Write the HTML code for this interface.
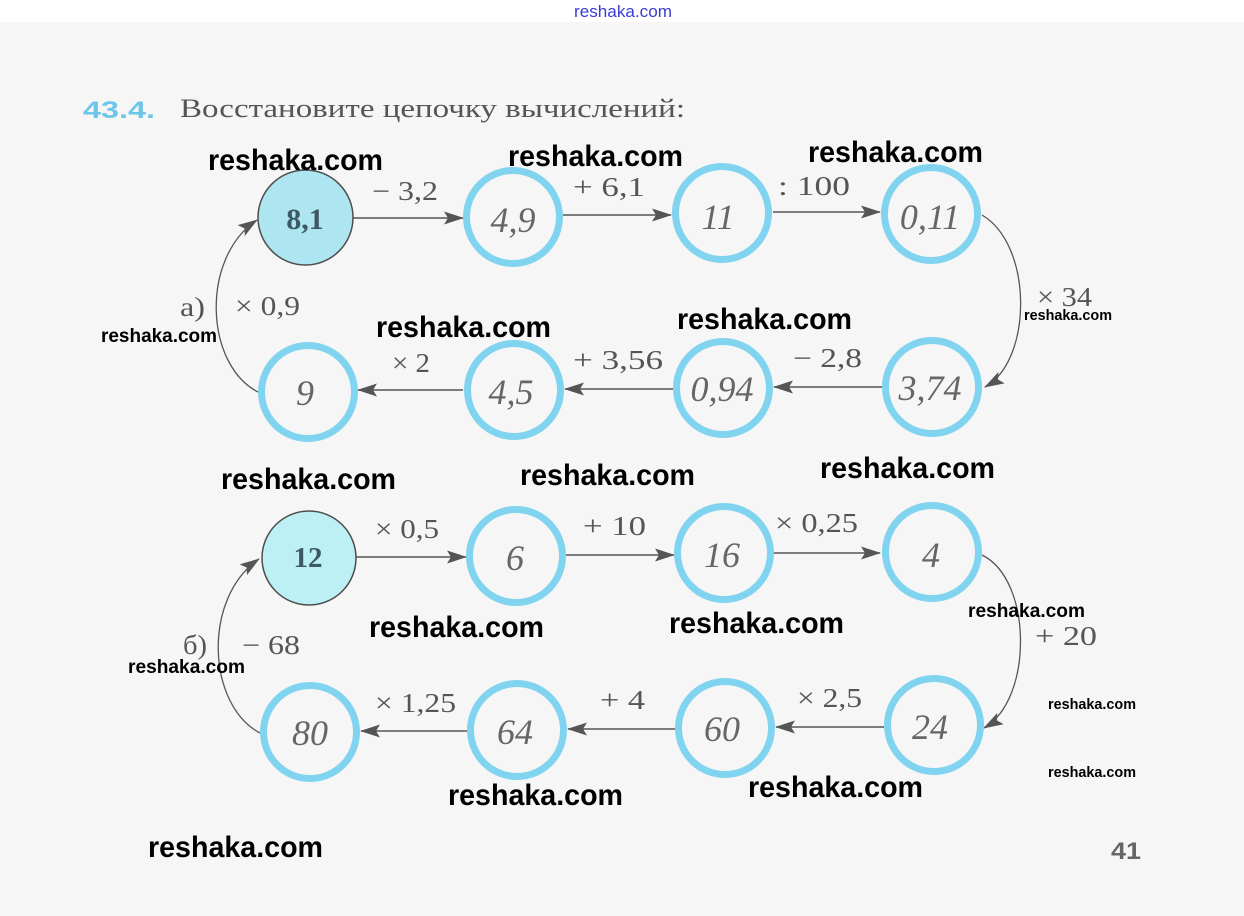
<!DOCTYPE html>
<html>
<head>
<meta charset="utf-8">
<style>
  html,body{margin:0;padding:0;background:#f6f6f6;}
  svg{display:block;}
  .lbl{font-family:"Liberation Serif",serif;font-size:27px;fill:#555;}
  .wm{font-family:"Liberation Sans",sans-serif;font-weight:bold;fill:#000;}
  .hw{font-family:"Liberation Serif",serif;font-style:italic;font-size:36px;fill:#666;text-anchor:middle;}
  .bn{font-family:"Liberation Serif",serif;font-weight:bold;fill:#3f5866;text-anchor:middle;}
</style>
</head>
<body>
<svg width="1244" height="916" viewBox="0 0 1244 916" xmlns="http://www.w3.org/2000/svg">
  <defs>
    <marker id="ah" viewBox="0 0 20 13" refX="19" refY="6.5" markerWidth="20" markerHeight="13" markerUnits="userSpaceOnUse" orient="auto">
      <path d="M0,0 L20,6.5 L0,13 L4,6.5 z" fill="#555"/>
    </marker>
  </defs>
  <rect x="0" y="0" width="1244" height="916" fill="#f6f6f6"/>
  <rect x="0" y="0" width="1244" height="22" fill="#ffffff"/>
  <text x="574" y="17" font-family="Liberation Sans, sans-serif" font-size="17" fill="#3b3bd6" textLength="98" lengthAdjust="spacingAndGlyphs">reshaka.com</text>

  <!-- title -->
  <text x="83" y="118" font-family="Liberation Sans, sans-serif" font-weight="bold" font-size="24" fill="#6cc6ea" textLength="72" lengthAdjust="spacingAndGlyphs">43.4.</text>
  <text x="180" y="117" font-family="Liberation Serif, serif" font-size="26" fill="#555" textLength="505" lengthAdjust="spacingAndGlyphs">Восстановите цепочку вычислений:</text>

  <!-- connectors -->
  <g stroke="#555" stroke-width="1.6" fill="none" marker-end="url(#ah)">
    <path d="M353 218 L463 218"/>
    <path d="M563 215 L671 215"/>
    <path d="M773 212 L880 212"/>
    <path d="M883 387 L774 387"/>
    <path d="M673 389 L565 389"/>
    <path d="M463 390 L358 390"/>
    <path d="M356 557 L466 557"/>
    <path d="M566 555 L674 555"/>
    <path d="M773 553 L880 553"/>
    <path d="M884 727 L776 727"/>
    <path d="M675 729 L568 729"/>
    <path d="M467 731 L361 731"/>
    <path d="M982 215 C 1033 245, 1033 360, 985 387" stroke-width="1.3"/>
    <path d="M982 555 C 1033 580, 1033 700, 984 728" stroke-width="1.3"/>
    <path d="M258 392 C 205 365, 200 258, 257 220" stroke-width="1.3"/>
    <path d="M260 733 C 207 705, 202 598, 259 559" stroke-width="1.3"/>
  </g>

  <!-- filled circles -->
  <circle cx="305.5" cy="217.5" r="47.5" fill="#ade6f0" stroke="#4d4d4d" stroke-width="1.5"/>
  <circle cx="309" cy="558" r="47" fill="#bcf0f4" stroke="#4d4d4d" stroke-width="1.5"/>
  <text class="bn" x="305" y="229" font-size="30">8,1</text>
  <text class="bn" x="308" y="567" font-size="29">12</text>

  <!-- open circles -->
  <g fill="none" stroke="#80d4ef" stroke-width="7">
    <circle cx="513" cy="217" r="46.5"/>
    <circle cx="722" cy="213" r="46.5"/>
    <circle cx="931" cy="214" r="46.5"/>
    <circle cx="308" cy="392" r="46.5"/>
    <circle cx="514" cy="390" r="46.5"/>
    <circle cx="723" cy="388" r="46.5"/>
    <circle cx="932" cy="387" r="46.5"/>
    <circle cx="516" cy="556" r="46.5"/>
    <circle cx="724" cy="553" r="46.5"/>
    <circle cx="932" cy="552" r="46.5"/>
    <circle cx="310" cy="732" r="46.5"/>
    <circle cx="517" cy="730" r="46.5"/>
    <circle cx="725" cy="728" r="46.5"/>
    <circle cx="934" cy="725" r="46.5"/>
  </g>

  <!-- handwritten values -->
  <text class="hw" x="513" y="232">4,9</text>
  <text class="hw" x="718" y="229">11</text>
  <text class="hw" x="930" y="229">0,11</text>
  <text class="hw" x="305" y="405">9</text>
  <text class="hw" x="511" y="404">4,5</text>
  <text class="hw" x="722" y="401">0,94</text>
  <text class="hw" x="930" y="400">3,74</text>
  <text class="hw" x="515" y="570">6</text>
  <text class="hw" x="722" y="567">16</text>
  <text class="hw" x="931" y="567">4</text>
  <text class="hw" x="310" y="745">80</text>
  <text class="hw" x="515" y="744">64</text>
  <text class="hw" x="722" y="741">60</text>
  <text class="hw" x="930" y="739">24</text>

  <!-- operation labels -->
  <text class="lbl" x="372" y="200" textLength="66" lengthAdjust="spacingAndGlyphs">− 3,2</text>
  <text class="lbl" x="573" y="196" textLength="72" lengthAdjust="spacingAndGlyphs">+ 6,1</text>
  <text class="lbl" x="778" y="195" textLength="72" lengthAdjust="spacingAndGlyphs">: 100</text>
  <text class="lbl" x="1037" y="306" textLength="55" lengthAdjust="spacingAndGlyphs">× 34</text>
  <text class="lbl" x="793" y="367" textLength="69" lengthAdjust="spacingAndGlyphs">− 2,8</text>
  <text class="lbl" x="573" y="369" textLength="90" lengthAdjust="spacingAndGlyphs">+ 3,56</text>
  <text class="lbl" x="392" y="372" textLength="38" lengthAdjust="spacingAndGlyphs">× 2</text>
  <text class="lbl" x="180" y="316" textLength="25" lengthAdjust="spacingAndGlyphs">а)</text>
  <text class="lbl" x="235" y="315" textLength="65" lengthAdjust="spacingAndGlyphs">× 0,9</text>
  <text class="lbl" x="375" y="538" textLength="64" lengthAdjust="spacingAndGlyphs">× 0,5</text>
  <text class="lbl" x="583" y="535" textLength="63" lengthAdjust="spacingAndGlyphs">+ 10</text>
  <text class="lbl" x="775" y="532" textLength="83" lengthAdjust="spacingAndGlyphs">× 0,25</text>
  <text class="lbl" x="1035" y="645" textLength="62" lengthAdjust="spacingAndGlyphs">+ 20</text>
  <text class="lbl" x="797" y="707" textLength="65" lengthAdjust="spacingAndGlyphs">× 2,5</text>
  <text class="lbl" x="600" y="709" textLength="45" lengthAdjust="spacingAndGlyphs">+ 4</text>
  <text class="lbl" x="375" y="712" textLength="81" lengthAdjust="spacingAndGlyphs">× 1,25</text>
  <text class="lbl" x="183" y="654" textLength="24" lengthAdjust="spacingAndGlyphs">б)</text>
  <text class="lbl" x="242" y="654" textLength="58" lengthAdjust="spacingAndGlyphs">− 68</text>

  <!-- page number -->
  <text x="1111" y="859" font-family="Liberation Sans, sans-serif" font-weight="bold" font-size="24" fill="#666" textLength="30" lengthAdjust="spacingAndGlyphs">41</text>

  <!-- watermarks large -->
  <g class="wm" font-size="30">
    <text x="208" y="170" textLength="175" lengthAdjust="spacingAndGlyphs">reshaka.com</text>
    <text x="508" y="166" textLength="175" lengthAdjust="spacingAndGlyphs">reshaka.com</text>
    <text x="808" y="162" textLength="175" lengthAdjust="spacingAndGlyphs">reshaka.com</text>
    <text x="376" y="337" textLength="175" lengthAdjust="spacingAndGlyphs">reshaka.com</text>
    <text x="677" y="329" textLength="175" lengthAdjust="spacingAndGlyphs">reshaka.com</text>
    <text x="221" y="489" textLength="175" lengthAdjust="spacingAndGlyphs">reshaka.com</text>
    <text x="520" y="485" textLength="175" lengthAdjust="spacingAndGlyphs">reshaka.com</text>
    <text x="820" y="478" textLength="175" lengthAdjust="spacingAndGlyphs">reshaka.com</text>
    <text x="369" y="637" textLength="175" lengthAdjust="spacingAndGlyphs">reshaka.com</text>
    <text x="669" y="633" textLength="175" lengthAdjust="spacingAndGlyphs">reshaka.com</text>
    <text x="448" y="805" textLength="175" lengthAdjust="spacingAndGlyphs">reshaka.com</text>
    <text x="748" y="797" textLength="175" lengthAdjust="spacingAndGlyphs">reshaka.com</text>
    <text x="148" y="857" textLength="175" lengthAdjust="spacingAndGlyphs">reshaka.com</text>
  </g>
  <!-- watermarks small -->
  <g class="wm">
    <text x="1024" y="320" font-size="14.5" textLength="88" lengthAdjust="spacingAndGlyphs">reshaka.com</text>
    <text x="101" y="342" font-size="19" textLength="116" lengthAdjust="spacingAndGlyphs">reshaka.com</text>
    <text x="968" y="617" font-size="19" textLength="117" lengthAdjust="spacingAndGlyphs">reshaka.com</text>
    <text x="128" y="673" font-size="19" textLength="117" lengthAdjust="spacingAndGlyphs">reshaka.com</text>
    <text x="1048" y="709" font-size="14.5" textLength="88" lengthAdjust="spacingAndGlyphs">reshaka.com</text>
    <text x="1048" y="777" font-size="14.5" textLength="88" lengthAdjust="spacingAndGlyphs">reshaka.com</text>
  </g>
</svg>
</body>
</html>
